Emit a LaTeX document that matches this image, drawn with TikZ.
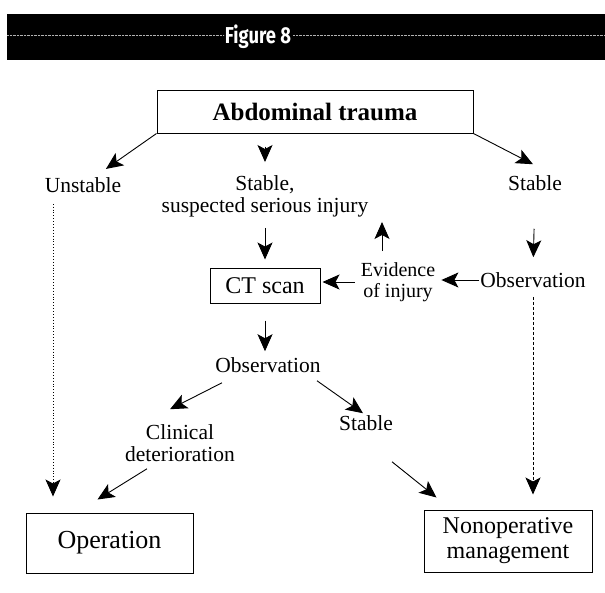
\documentclass[tikz,border=0pt]{standalone}
\usepackage{fontspec}
\setmainfont{Liberation Serif}
\newfontfamily\headfont{Fira Sans}
\usetikzlibrary{arrows.meta}
\usetikzlibrary{calc}

\tikzset{
  lbl/.style={font=\fontsize{21.5}{22}\selectfont, align=center, inner sep=1pt},
  box/.style={draw, line width=1pt, inner sep=0pt, align=center, font=\fontsize{24}{25}\selectfont},
  arr/.style={-{Stealth[length=17pt,width=15pt,inset=4pt]}, line width=0.9pt},
}

\begin{document}
\begin{tikzpicture}[x=1pt,y=-1pt]
			\useasboundingbox (0,0) rectangle (605,592);
			
			% header band
			\fill[black] (7,14) rectangle (605,60);
			\draw[gray!60, densely dotted, thin] (7,35) -- (224,35);
			\draw[gray!60, densely dotted, thin] (293,35) -- (605,35);
			\node[text=white, font=\headfont\bfseries\fontsize{23}{23}\selectfont] (title) at (258,37) {\scalebox{0.8}[1]{Figure 8}};
			
			% boxes
			\node[box, minimum width=316pt, minimum height=43pt, font=\bfseries\fontsize{25}{26}\selectfont] (trauma) at (315,111.5) {Abdominal trauma};
			\node[box, minimum width=110pt, minimum height=35pt] (ctscan) at (265,285.5) {CT scan};
			\node[box, minimum width=167pt, minimum height=60pt, font=\fontsize{26}{27}\selectfont] (operation) at (109.5,543) {Operation};
			\node[box, minimum width=168pt, minimum height=62pt] (nonop) at (508,541) {Nonoperative\\management};
			
			% labels
			\node[lbl] (unstable) at (83,185) {Unstable};
			\node[lbl] (suspected) at (265,196) {Stable,\\suspected serious injury};
			\node[lbl] (stableR) at (535,183) {Stable};
			\node[lbl, font=\fontsize{20}{21}\selectfont] (evidence) at (398,282) {Evidence\\of injury};
			\node[lbl] (obsR) at (533,280) {Observation};
			\node[lbl] (obsM) at (268,365) {Observation};
			\node[lbl] (clinical) at (180,443) {Clinical\\deterioration};
			\node[lbl] (stableM) at (366,423) {Stable};
			
			% arrows from the top box
			\draw[arr, shorten >=28pt] (trauma.south west) -- (unstable.center);
			\draw[arr, shorten <=13pt, shorten >=12pt] (trauma.south -| suspected.north) -- (suspected.north);
			\draw[arr] (trauma.south east) -- ($(stableR.north)+(-2,-10)$);
			
			% middle column
			\draw[arr, shorten <=10pt, shorten >=8pt] (suspected.south) -- (suspected.south |- ctscan.north);
			\draw[arr, shorten <=10pt, shorten >=4pt] ([xshift=-16pt]evidence.north) -- ([xshift=-16pt]evidence.north |- suspected.south);
			\draw[arr, shorten <=5pt, shorten >=2pt] (evidence.west) -- (evidence.west -| ctscan.east);
			\draw[arr, shorten >=5pt] (obsR.west) -- (obsR.west -| evidence.east);
			\draw[arr, shorten <=37pt, shorten >=14pt] (stableR.south) -- (obsR.north);
			\draw[arr, shorten <=17pt, shorten >=5pt] (ctscan.south) -- (ctscan.south |- obsM.north);
			
			% branches after observation
			\draw[arr] ($(obsM.south)+(-46,9)$) -- ($(clinical.north)+(-10,-14)$);
			\draw[arr] ($(obsM.south)+(49,7)$) -- ($(stableM.north)+(-3,-1)$);
			\draw[arr] ($(clinical.south)+(-33,6)$) -- ($(operation.north)+(-12,-13)$);
			\draw[arr] ($(stableM.south)+(26,30)$) -- ($(nonop.north west)+(13,-12)$);
			
			% long verticals
			\draw[arr, dotted, shorten <=10pt, shorten >=16pt] ([xshift=-30pt]unstable.south) -- ([xshift=-30pt]unstable.south |- operation.north);
			\draw[arr, densely dashed, shorten <=8pt, shorten >=15pt] (obsR.south) -- (obsR.south |- nonop.north);
			
		\end{tikzpicture}
\end{document}
